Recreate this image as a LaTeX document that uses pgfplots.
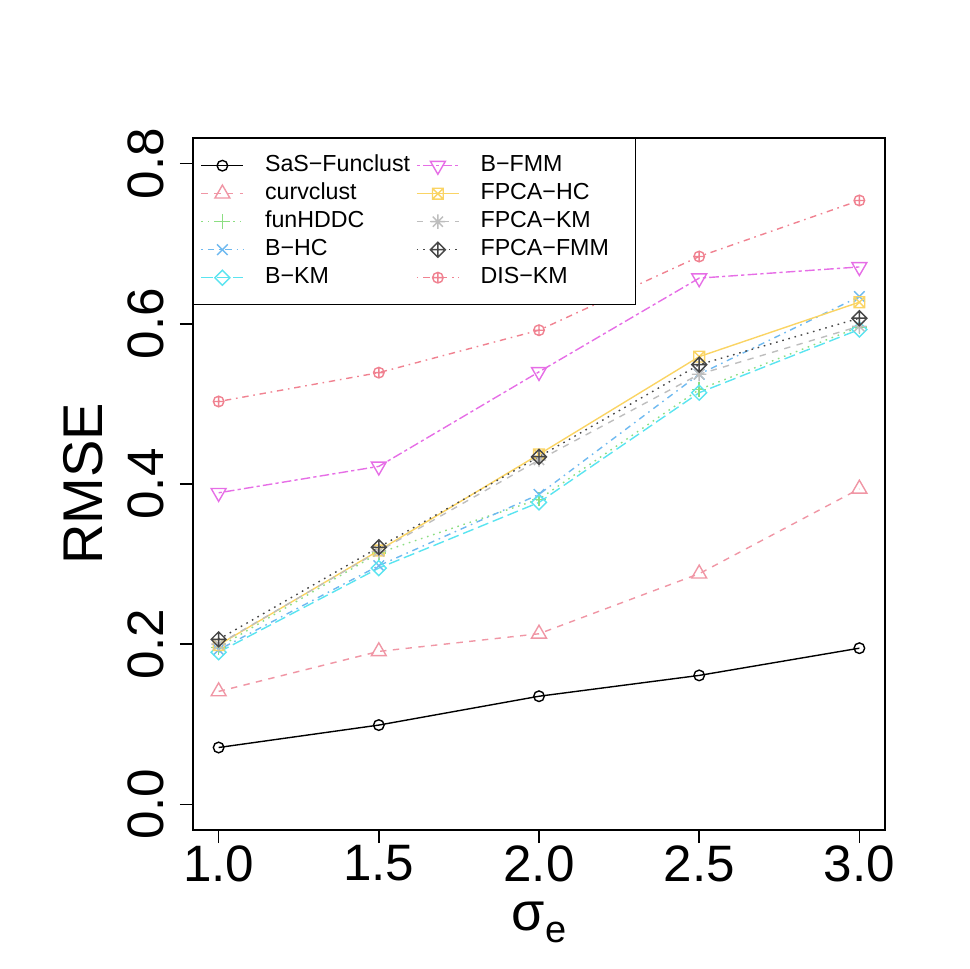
\documentclass[border=0pt]{standalone}
\usepackage{pgfplots}
\pgfplotsset{compat=1.18}
\usepackage{fontspec}
\setmainfont{Liberation Sans}

% R-like plot marks
\pgfdeclareplotmark{sqx}{%
  \pgfpathrectangle{\pgfqpoint{-\pgfplotmarksize}{-\pgfplotmarksize}}{\pgfqpoint{2\pgfplotmarksize}{2\pgfplotmarksize}}%
  \pgfpathmoveto{\pgfqpoint{-\pgfplotmarksize}{-\pgfplotmarksize}}\pgfpathlineto{\pgfqpoint{\pgfplotmarksize}{\pgfplotmarksize}}%
  \pgfpathmoveto{\pgfqpoint{-\pgfplotmarksize}{\pgfplotmarksize}}\pgfpathlineto{\pgfqpoint{\pgfplotmarksize}{-\pgfplotmarksize}}%
  \pgfusepathqstroke}
\pgfdeclareplotmark{rdia}{%
  \pgfpathmoveto{\pgfqpoint{0pt}{\pgfplotmarksize}}\pgfpathlineto{\pgfqpoint{\pgfplotmarksize}{0pt}}%
  \pgfpathlineto{\pgfqpoint{0pt}{-\pgfplotmarksize}}\pgfpathlineto{\pgfqpoint{-\pgfplotmarksize}{0pt}}\pgfpathclose
  \pgfusepathqstroke}
\pgfdeclareplotmark{rdiaplus}{%
  \pgfpathmoveto{\pgfqpoint{0pt}{\pgfplotmarksize}}\pgfpathlineto{\pgfqpoint{\pgfplotmarksize}{0pt}}%
  \pgfpathlineto{\pgfqpoint{0pt}{-\pgfplotmarksize}}\pgfpathlineto{\pgfqpoint{-\pgfplotmarksize}{0pt}}\pgfpathclose
  \pgfpathmoveto{\pgfqpoint{0pt}{\pgfplotmarksize}}\pgfpathlineto{\pgfqpoint{0pt}{-\pgfplotmarksize}}%
  \pgfpathmoveto{\pgfqpoint{-\pgfplotmarksize}{0pt}}\pgfpathlineto{\pgfqpoint{\pgfplotmarksize}{0pt}}%
  \pgfusepathqstroke}
\pgfdeclareplotmark{ast8}{%
  \pgfpathmoveto{\pgfqpoint{0pt}{\pgfplotmarksize}}\pgfpathlineto{\pgfqpoint{0pt}{-\pgfplotmarksize}}%
  \pgfpathmoveto{\pgfqpoint{-\pgfplotmarksize}{0pt}}\pgfpathlineto{\pgfqpoint{\pgfplotmarksize}{0pt}}%
  \pgfpathmoveto{\pgfqpoint{-.7071\pgfplotmarksize}{-.7071\pgfplotmarksize}}\pgfpathlineto{\pgfqpoint{.7071\pgfplotmarksize}{.7071\pgfplotmarksize}}%
  \pgfpathmoveto{\pgfqpoint{-.7071\pgfplotmarksize}{.7071\pgfplotmarksize}}\pgfpathlineto{\pgfqpoint{.7071\pgfplotmarksize}{-.7071\pgfplotmarksize}}%
  \pgfusepathqstroke}

\definecolor{cCurv}{RGB}{240,150,165}
\definecolor{cHDDC}{RGB}{140,222,130}
\definecolor{cBHC}{RGB}{110,185,240}
\definecolor{cBKM}{RGB}{90,228,240}
\definecolor{cBFMM}{RGB}{230,110,230}
\definecolor{cFHC}{RGB}{250,212,100}
\definecolor{cFKM}{RGB}{190,190,190}
\definecolor{cFFMM}{RGB}{70,70,70}
\definecolor{cDIS}{RGB}{240,130,145}

\tikzset{
  ltydash/.style={dash pattern=on 3.2pt off 3.2pt},
  ltydot/.style={dash pattern=on 0.8pt off 2.4pt},
  ltydotdash/.style={dash pattern=on 0.8pt off 2.4pt on 3.2pt off 2.4pt},
  ltylong/.style={dash pattern=on 5.6pt off 2.4pt},
  ltytwo/.style={dash pattern=on 1.6pt off 1.6pt on 4.8pt off 1.6pt},
}

\begin{document}
\begin{tikzpicture}
\begin{axis}[
    scale only axis,
    width=346pt, height=346pt,
    xmin=0.92, xmax=3.08,
    ymin=-0.032, ymax=0.832,
    axis line style={line width=0.7pt},
    tick style={line width=0.7pt, black},
    tick align=outside,
    major tick length=6.5pt,
    xtick={1,1.5,2,2.5,3},
    xticklabels={1.0,1.5,2.0,2.5,3.0},
    ytick={0,0.2,0.4,0.6,0.8},
    yticklabels={0.0,0.2,0.4,0.6,0.8},
    xtick pos=bottom, ytick pos=left,
    ticklabel style={font=\fontsize{25.6}{28}\selectfont},
    xticklabel style={anchor=north, inner sep=0pt, yshift=-1pt},
    yticklabel style={xshift=-8pt, rotate=90, anchor=south, inner sep=0pt},
    every axis y label/.style={at={(rel axis cs:0,0.5)}, xshift=-55pt, rotate=90, anchor=center,
      font=\fontsize{28}{32}\selectfont},
    ylabel={RMSE},
    every axis x label/.style={at={(rel axis cs:0.5,0)}, yshift=-46pt, anchor=center},
    xlabel={{\fontsize{27}{30}\selectfont σ}\raisebox{-6pt}{\fontsize{19}{22}\selectfont e}},
    every axis plot/.append style={line width=0.7pt},
    mark options={solid},
    legend style={
      at={(rel axis cs:0,1)}, anchor=north west,
      draw=black, line width=0.7pt,
      font=\fontsize{11.6}{14}\selectfont,
      inner xsep=3.5pt, inner ysep=6.5pt,
      nodes={inner sep=0pt, text height=10pt, text depth=4pt},
      cells={anchor=west},
      /tikz/every odd column/.append style={column sep=10.5pt},
      /tikz/every even column/.append style={column sep=3pt},
      /tikz/column 4/.style={nodes={text width=74pt, align=left}},
    },
    legend columns=5,
    transpose legend,
    legend image code/.code={%
      \draw[mark repeat=2, mark phase=2] plot coordinates {(0pt,0pt) (10.5pt,0pt) (21pt,0pt)};},
  ]
  \coordinate (bl) at (rel axis cs:0,0);
  \coordinate (tr) at (rel axis cs:1,1);

  \addplot[black, mark=o, mark size=2.65pt] coordinates {
    (1,0.071) (1.5,0.099) (2,0.135) (2.5,0.161) (3,0.195)};
  \addlegendentry{SaS−Funclust}
  \addplot[cCurv, ltydash, mark=triangle, mark size=4.3pt] coordinates {
    (1,0.141) (1.5,0.191) (2,0.213) (2.5,0.288) (3,0.394)};
  \addlegendentry{curvclust}
  \addplot[cHDDC, ltydot, mark=+, mark size=3.6pt] coordinates {
    (1,0.196) (1.5,0.314) (2,0.381) (2.5,0.518) (3,0.596)};
  \addlegendentry{funHDDC}
  \addplot[cBHC, ltydotdash, mark=x, mark size=3.75pt] coordinates {
    (1,0.193) (1.5,0.298) (2,0.387) (2.5,0.537) (3,0.634)};
  \addlegendentry{B−HC}
  \addplot[cBKM, ltylong, mark=rdia, mark size=3.75pt] coordinates {
    (1,0.190) (1.5,0.295) (2,0.377) (2.5,0.514) (3,0.593)};
  \addlegendentry{B−KM}
  \addplot[cBFMM, ltytwo, mark=triangle, mark size=4.3pt, mark options={solid, rotate=180}] coordinates {
    (1,0.389) (1.5,0.422) (2,0.540) (2.5,0.657) (3,0.671)};
  \addlegendentry{B−FMM}
  \addplot[cFHC, mark=sqx, mark size=2.7pt] coordinates {
    (1,0.199) (1.5,0.317) (2,0.437) (2.5,0.559) (3,0.627)};
  \addlegendentry{FPCA−HC}
  \addplot[cFKM, ltydash, mark=ast8, mark size=3.6pt] coordinates {
    (1,0.200) (1.5,0.316) (2,0.430) (2.5,0.537) (3,0.597)};
  \addlegendentry{FPCA−KM}
  \addplot[cFFMM, ltydot, mark=rdiaplus, mark size=3.75pt] coordinates {
    (1,0.206) (1.5,0.321) (2,0.434) (2.5,0.549) (3,0.607)};
  \addlegendentry{FPCA−FMM}
  \addplot[cDIS, ltydotdash, mark=oplus, mark size=2.65pt] coordinates {
    (1,0.503) (1.5,0.539) (2,0.592) (2.5,0.684) (3,0.754)};
  \addlegendentry{DIS−KM}
\end{axis}
\path[use as bounding box] ([shift={(-96.5pt,-69.5pt)}]bl) rectangle ([shift={(42pt,69pt)}]tr);
\end{tikzpicture}
\end{document}
